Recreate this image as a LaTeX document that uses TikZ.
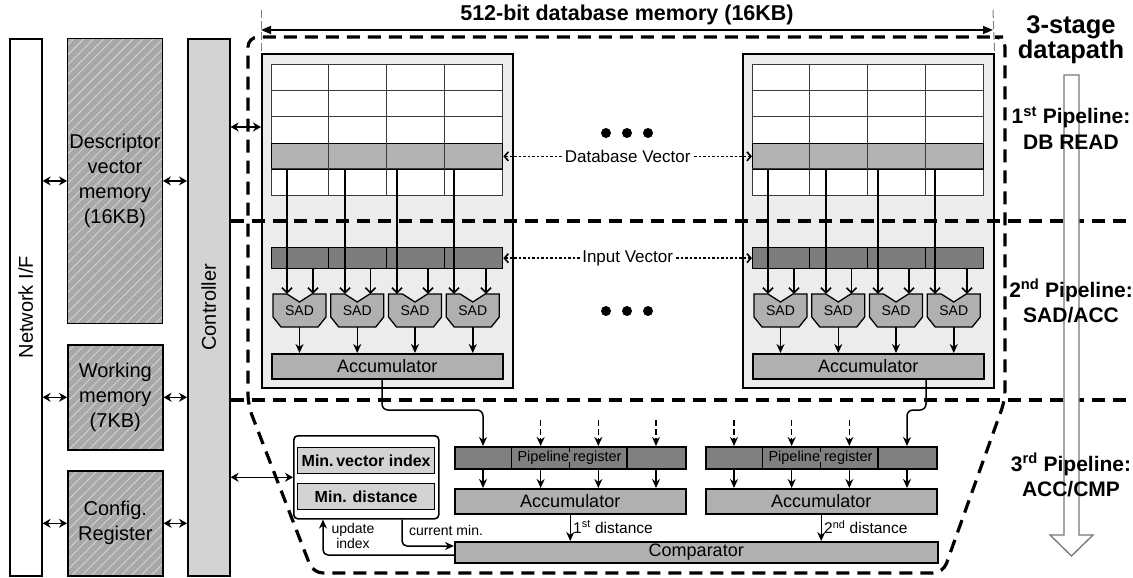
\documentclass[tikz,border=0pt]{standalone}
\usepackage{fontspec}
\setmainfont{Liberation Sans}
\usetikzlibrary{arrows.meta,patterns.meta}

\definecolor{blockbg}{HTML}{ECECEC}
\definecolor{gridc}{HTML}{3A3A3A}
\definecolor{dbrowc}{HTML}{B3B3B3}
\definecolor{inrowc}{HTML}{7D7D7D}
\definecolor{unitc}{HTML}{B0B0B0}
\definecolor{regc}{HTML}{808080}
\definecolor{ctrlc}{HTML}{D3D3D3}
\definecolor{hatchbg}{HTML}{A8A8A8}
\definecolor{hatchfg}{HTML}{D4D4D4}
\definecolor{hollowc}{HTML}{777777}

\tikzset{
  panel/.style={draw=black, line width=1.6pt, inner sep=0pt, anchor=north west},
  memblk/.style={panel, preaction={fill=hatchbg},
    pattern={Lines[angle=45,distance=7pt,line width=0.9pt]}, pattern color=hatchfg,
    align=center, font=\fontsize{20}{25}\selectfont},
  bigtxt/.style={font=\fontsize{20}{25}\selectfont},
  dblock/.style={panel, fill=blockbg},
  gridbox/.style={draw=gridc, line width=1.2pt, fill=white, inner sep=0pt, anchor=north west},
  gridline/.style={draw=gridc, line width=1.2pt},
  dbrow/.style={draw=black, line width=1.3pt, fill=dbrowc, inner sep=0pt, anchor=north west},
  inrow/.style={draw=black, line width=1.3pt, fill=inrowc, inner sep=0pt, anchor=north west},
  unitbox/.style={draw=black, line width=1.5pt, fill=unitc, inner sep=0pt, anchor=north west,
    font=\fontsize{18}{20}\selectfont},
  regbox/.style={draw=black, line width=1.5pt, fill=regc, inner sep=0pt, anchor=north west},
  reglbl/.style={fill=regc, inner xsep=4pt, inner ysep=0pt, text height=9pt, text depth=1pt,
    font=\fontsize{14.5}{16}\selectfont},
  sadshape/.style={draw=black, line width=1.3pt, fill=unitc},
  sadlbl/.style={minimum width=53pt, minimum height=33pt, inner sep=0pt,
    font=\fontsize{14}{16}\selectfont},
  arr/.style={-{Stealth[length=9pt,width=8pt]}, line width=1.5pt},
  arrin/.style={-{Straight Barb[length=5pt,width=10pt]}, line width=1.5pt},
  dasharr/.style={-{Stealth[length=9pt,width=8pt]}, line width=1.6pt, dash pattern=on 6pt off 3pt},
  dbl/.style={{Stealth[length=8pt,width=9pt]}-{Stealth[length=8pt,width=9pt]}, line width=1.6pt},
  vecarr/.style={{Straight Barb[length=4pt,width=9pt]}-{Straight Barb[length=4pt,width=9pt]},
    line width=1.6pt, dash pattern=on 2.5pt off 2pt},
  veclbl/.style={fill=white, inner sep=2pt, font=\fontsize{17}{20}\selectfont},
  bigdash/.style={line width=3.2pt, dash pattern=on 13pt off 8pt},
  smalllbl/.style={font=\fontsize{14}{15}\selectfont, inner sep=0pt},
  distlbl/.style={font=\fontsize{15.5}{18}\selectfont, inner sep=0pt, anchor=west},
  mininner/.style={draw=black, line width=1.3pt, fill=ctrlc, inner sep=0pt, anchor=north west,
    minimum width=137pt, minimum height=26pt, font=\bfseries\fontsize{16}{18}\selectfont},
  stagelbl/.style={align=center, font=\bfseries\fontsize{21}{25.5}\selectfont},
  dotmark/.style={circle, fill=black, minimum size=10pt, inner sep=0pt},
}

\begin{document}
\begin{tikzpicture}[x=1pt,y=-1pt]
\useasboundingbox (0,0) rectangle (1133,578);

% ---------- left column: interface, memories, controller ----------
\node[panel, fill=white, minimum width=32pt, minimum height=537pt] (net) at (9,38) {};
\node[bigtxt, rotate=90] (netlbl) at (net.center) {Network I/F};
\node[memblk, minimum width=95pt, minimum height=285pt] (desc) at (67,38) {Descriptor\\vector\\memory\\(16KB)};
\node[memblk, minimum width=95pt, minimum height=105pt] (work) at (67,344) {Working\\memory\\(7KB)};
\node[memblk, minimum width=95pt, minimum height=105pt] (conf) at (67,470) {Config.\\Register};
\node[panel, fill=ctrlc, minimum width=42pt, minimum height=537pt] (ctrl) at (187,38) {};
\node[bigtxt, rotate=90] (ctrllbl) at (ctrl.center) {Controller};

\foreach \m in {desc,work,conf}{
  \draw[dbl] (net.east |- \m.west) -- (\m.west);
  \draw[dbl] (\m.east) -- (\m.east -| ctrl.west);
}

% ---------- two database memory blocks (stages 1 and 2) ----------
\foreach \b/\dx in {L/0,R/481}{
\begin{scope}[xshift=\dx pt]
  \node[dblock, minimum width=251pt, minimum height=334pt] (blk\b) at (261,53) {};
  \node[gridbox, minimum width=231pt, minimum height=131pt] (grid\b) at (271,64) {};
  \node[dbrow, minimum width=231pt, minimum height=26.2pt] (dbv\b) at (271,142.6) {};
  \foreach \yy in {90.2,116.4,168.8} \draw[gridline] (271,\yy) -- (502,\yy);
  \foreach \xx in {328.75,386.5,444.25} \draw[gridline] (\xx,64) -- (\xx,195);
  \node[inrow, minimum width=231pt, minimum height=21pt] (iv\b) at (271,247) {};
  \foreach \xx in {328.75,386.5,444.25} \draw[line width=1.3pt] (\xx,247) -- (\xx,268);
  \node[unitbox, minimum width=231pt, minimum height=25pt] (acc\b) at (271,353) {Accumulator};
  \foreach \i/\sx/\ax/\bx in {1/273/287/313, 2/330.75/345/370.5, 3/388.5/397/428, 4/446.25/454/486}{
    \draw[sadshape] (\sx,294) -- ++(14,0) -- ++(12.5,8) -- ++(12.5,-8) -- ++(14,0)
      -- ++(0,23) -- ++(-8,10) -- ++(-37,0) -- ++(-8,-10) -- cycle;
    \node[sadlbl] (sad\b\i) at (\sx+26.5,310.5) {SAD};
    \coordinate (da\b\i) at (\ax,168.8);
    \coordinate (ia\b\i) at (\bx,268);
    \draw[arrin] (da\b\i) -- (da\b\i |- sad\b\i.north);
    \draw[arrin] (ia\b\i) -- (ia\b\i |- sad\b\i.north);
    \draw[arr] (sad\b\i.south) -- (sad\b\i.south |- acc\b.north);
  }
\end{scope}
}

% continuation dots and shared vectors
\node[dotmark] (dotA1) at (606,133) {};
\node[dotmark] (dotA2) at (627,133) {};
\node[dotmark] (dotA3) at (648,133) {};
\node[dotmark] (dotB1) at (606,311) {};
\node[dotmark] (dotB2) at (627,311) {};
\node[dotmark] (dotB3) at (648,311) {};
\draw[vecarr] (dbvL.east) -- node[veclbl] (dblbl) {Database Vector} (dbvR.west);
\draw[vecarr] (ivL.east) -- node[veclbl] (ivlbl) {Input Vector} (ivR.west);

% controller to memory block
\coordinate (cb) at (245,127);
\draw[dbl] (ctrl.east |- cb) -- (blkL.west |- cb);

% ---------- stage 3: pipeline registers, accumulators, comparator ----------
\foreach \b/\x in {L/454,R/705}{
  \node[regbox, minimum width=231pt, minimum height=22pt] (reg\b) at (\x,446) {};
  \foreach \k in {1,2,3}
    \draw[line width=1.3pt] (\x+57.67*\k,446) -- (\x+57.67*\k,468);
  \node[reglbl] (reglbl\b) at (\x+115.5,457) {Pipeline register};
  \node[unitbox, minimum width=231pt, minimum height=25pt] (accc\b) at (\x,488) {Accumulator};
  \foreach \j/\o in {1/29,2/86.67,3/144.33,4/202}{
    \coordinate (p\b\j) at (\x+\o,446);
    \coordinate (q\b\j) at (\x+\o,420);
    \draw[arr] (p\b\j |- reg\b.south) -- (p\b\j |- accc\b.north);
  }
}
\foreach \b/\j in {L/2,L/3,L/4,R/1,R/2,R/3}
  \draw[dasharr] (q\b\j) -- (p\b\j);

\node[unitbox, minimum width=483pt, minimum height=21pt] (cmp) at (454,541) {Comparator};

\coordinate (oL) at (382,410);
\coordinate (oR) at (926,410);
\draw[arr, rounded corners=6pt] (accL.south -| oL) -- (oL) -- (oL -| pL1) -- (pL1);
\draw[arr, rounded corners=6pt] (accR.south -| oR) -- (oR) -- (oR -| pR4) -- (pR4);

\draw[arr] (acccL.south) -- (acccL.south |- cmp.north);
\draw[arr] (acccR.south) -- (acccR.south |- cmp.north);
\node[distlbl] (dist1) at (573,527) {1\textsuperscript{st} distance};
\node[distlbl] (dist2) at (824,527) {2\textsuperscript{nd} distance};

% minimum registers
\node[panel, fill=white, rounded corners=4pt, minimum width=145pt, minimum height=83pt] (minb) at (293,435) {};
\node[mininner] (mvi) at (297,447) {Min.\,vector index};
\node[mininner] (mdist) at (297,483) {Min. distance};
\draw[dbl] (ctrl.east |- minb.west) -- (minb.west);

\coordinate (uc) at (323,555);
\coordinate (cc) at (402,546);
\draw[arr, rounded corners=5pt] (cmp.west |- uc) -- (uc) -- (uc |- minb.south);
\draw[arr, rounded corners=5pt] (minb.south -| cc) -- (cc) -- (cc -| cmp.west);
\node[smalllbl, align=center] (updlbl) at (353,536) {update\\index};
\node[smalllbl] (curlbl) at (446,530) {current min.};

% ---------- stage boundaries and datapath outline ----------
\coordinate (sepA) at (1133,221);
\coordinate (sepB) at (1133,400);
\draw[bigdash] (ctrl.east |- sepA) -- (sepA);
\draw[bigdash] (ctrl.east |- sepB) -- (sepB);
\draw[bigdash, rounded corners=10pt] (993,37) -- (1005,37) -- (1005,400) -- (943,573)
  -- (313,573) -- (248,405) -- (248,37) -- cycle;

% hollow arrow of the datapath stages
\draw[draw=hollowc, fill=white, line width=1.3pt] (1064,75) -- (1079,75) -- (1079,535)
  -- (1093,535) -- (1071.5,556) -- (1050,535) -- (1064,535) -- cycle;
\node[align=center, font=\bfseries\fontsize{25.5}{25}\selectfont] (stages) at (1071,40) {3-stage\\datapath};
\node[stagelbl] (st1) at (1071,128) {1\textsuperscript{st} Pipeline:\\DB READ};
\node[stagelbl] (st2) at (1071,301) {2\textsuperscript{nd} Pipeline:\\SAD/ACC};
\node[stagelbl] (st3) at (1071,475) {3\textsuperscript{rd} Pipeline:\\ACC/CMP};

% ---------- memory width dimension ----------
\coordinate (eL) at (261,10);
\coordinate (eR) at (993,10);
\draw[draw=gray, line width=1pt, dash pattern=on 8pt off 3pt] (eL) -- (blkL.north west);
\draw[draw=gray, line width=1pt, dash pattern=on 8pt off 3pt] (eR) -- (blkR.north east);
\coordinate (dimL) at (261,30);
\coordinate (dimR) at (993,30);
\draw[{Triangle[length=10pt,width=8pt]}-{Triangle[length=10pt,width=8pt]}, line width=1.3pt] (dimL) -- (dimR);
\node[font=\bfseries\fontsize{21.5}{24}\selectfont] (title) at (627,15) {512-bit database memory (16KB)};
\end{tikzpicture}
\end{document}
